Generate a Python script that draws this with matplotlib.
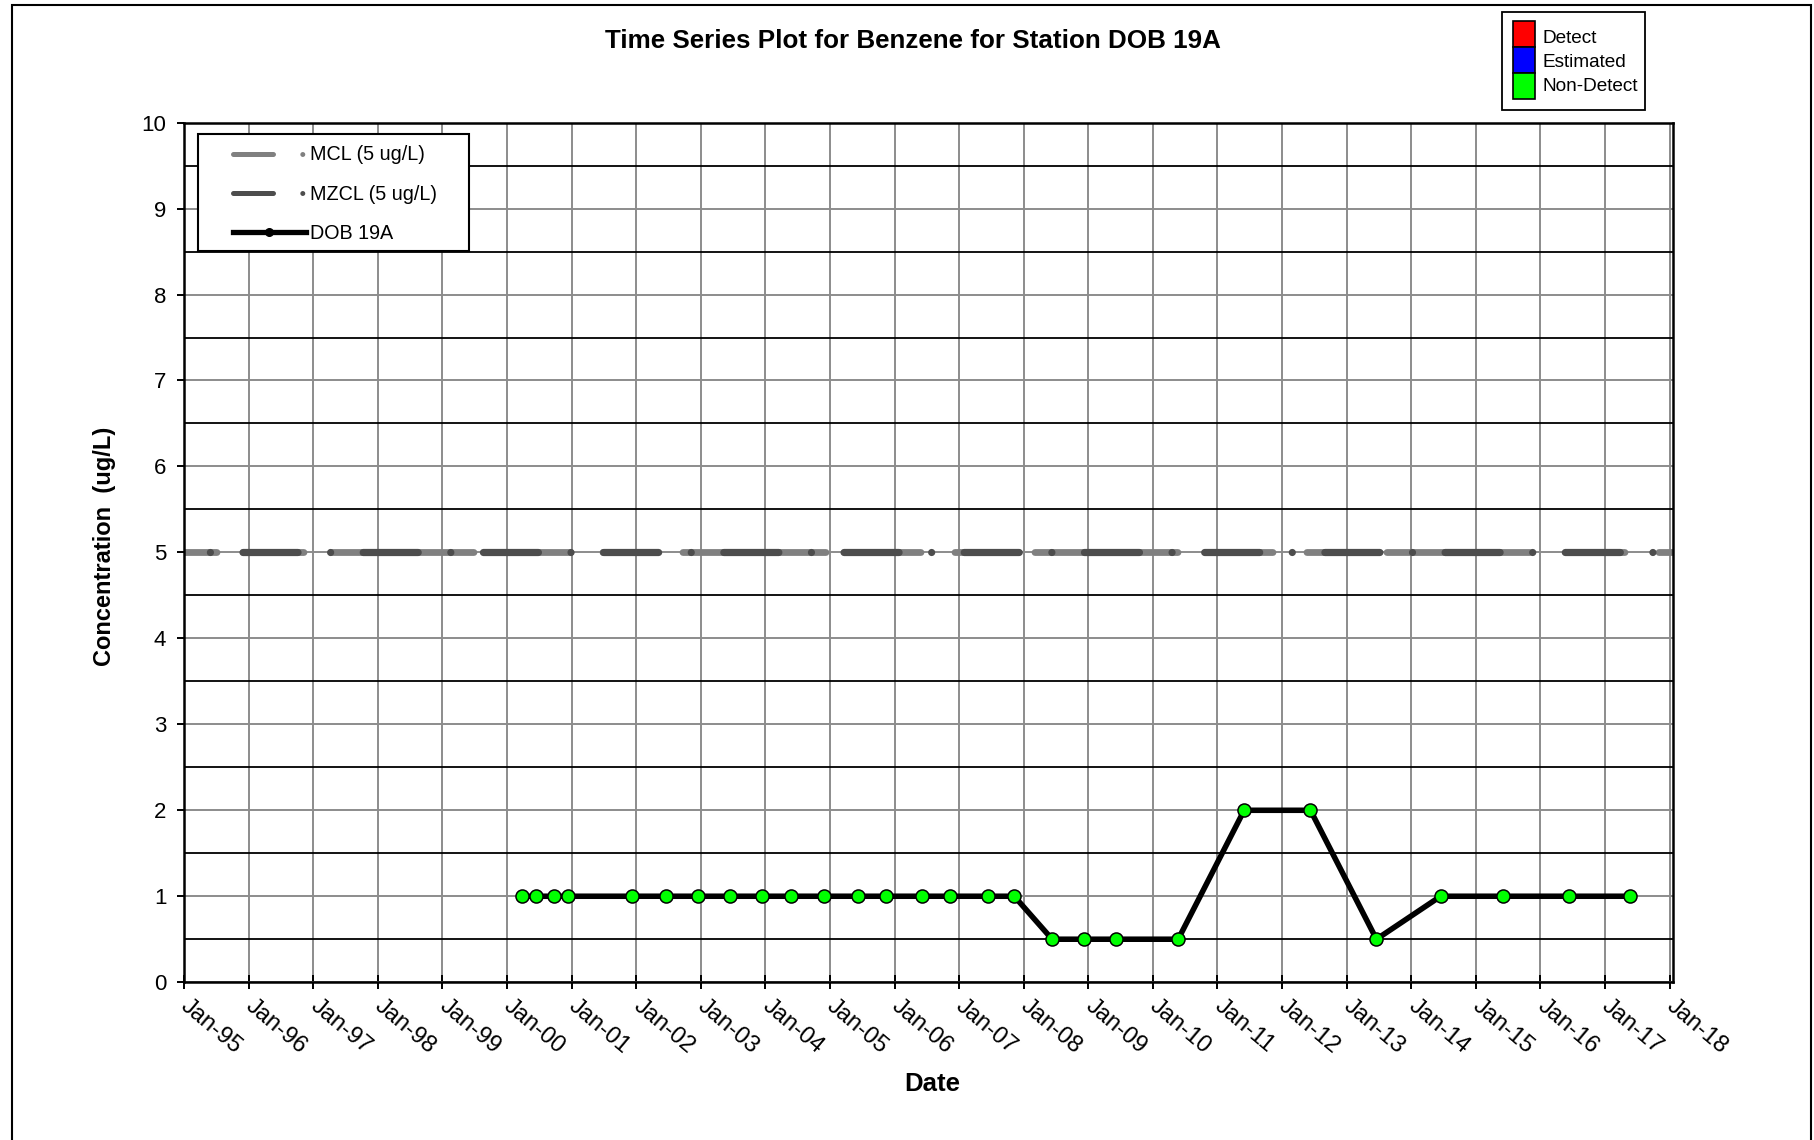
import matplotlib
matplotlib.use('Agg')
import matplotlib.pyplot as plt
import matplotlib.dates as mdates
import matplotlib.transforms as mtransforms
from matplotlib.lines import Line2D
from matplotlib.patches import Rectangle
from matplotlib.ticker import MultipleLocator
import pandas as pd

plt.rcParams['font.family'] = ['Liberation Sans', 'DejaVu Sans']
plt.rcParams['lines.scale_dashes'] = False

# ---------------- data ----------------
sample_dates = [
    "2000-03-27", "2000-06-15", "2000-09-23", "2000-12-11", "2001-12-10",
    "2002-06-21", "2002-12-17", "2003-06-15", "2003-12-14", "2004-05-23",
    "2004-11-27", "2005-06-10", "2005-11-16", "2006-06-06", "2006-11-13",
    "2007-06-15", "2007-11-09", "2008-06-10", "2008-12-10", "2009-06-06",
    "2010-05-24", "2011-06-01", "2012-06-10", "2013-06-18", "2014-06-16",
    "2015-06-03", "2016-06-10", "2017-05-20",
]
concentration = [
    1, 1, 1, 1, 1,
    1, 1, 1, 1, 1,
    1, 1, 1, 1, 1,
    1, 1, 0.5, 0.5, 0.5,
    0.5, 2, 2, 0.5, 1,
    1, 1, 1,
]
detect_status = ["Non-Detect"] * len(sample_dates)

limit_dates = ["1995-01-01", "2018-01-20"]
mcl_values = [5, 5]
mzcl_values = [5, 5]

tick_years = list(range(1995, 2019))
tick_labels = ["Jan-%02d" % (y % 100) for y in tick_years]

status_labels = ["Detect", "Estimated", "Non-Detect"]
status_colors = ["#ff0000", "#0000ff", "#00ff00"]

series_labels = ["MCL (5 ug/L)", "MZCL (5 ug/L)", "DOB 19A"]

# ---------------- layout ----------------
W, H, DPI = 1814, 1140, 100
fig = plt.figure(figsize=(W / DPI, H / DPI), dpi=DPI)
fig.patch.set_facecolor('white')


def fx(px):
    return px / W


def fy(py):
    return 1 - py / H


L, R, T, B = 184, 1673, 122.6, 982.2
ax = fig.add_axes([fx(L), fy(B), fx(R) - fx(L), fy(T) - fy(B)])

dates = pd.to_datetime(sample_dates)
ldates = pd.to_datetime(limit_dates)

LIGHT = '#808080'
DARK = '#4d4d4d'
PX = 0.72  # points per pixel at 100 dpi

# MCL (light, long dash pattern)
mcl_style = (205.5 * PX, tuple(v * PX for v in (143, 57, 38, 34, 53, 27)))
ax.plot(ldates, mcl_values, color=LIGHT, lw=4.9, linestyle=mcl_style,
        dash_capstyle='round', zorder=2)
# MZCL (dark, long dash dot)
mzcl_style = (61.7 * PX, tuple(v * PX for v in (55, 32.6, 0.01, 32.6)))
ax.plot(ldates, mzcl_values, color=DARK, lw=5.2, linestyle=mzcl_style,
        dash_capstyle='round', zorder=2.1)

# Station series
ax.plot(dates, concentration, color='black', lw=4.0, zorder=3,
        solid_joinstyle='round')
for lab, col in zip(status_labels, status_colors):
    xs = [d for d, s in zip(dates, detect_status) if s == lab]
    ys = [c for c, s in zip(concentration, detect_status) if s == lab]
    if xs:
        ax.plot(xs, ys, linestyle='none', marker='o', ms=9.4, mfc=col,
                mec='black', mew=1.1, zorder=4)

# axes limits / ticks
ax.set_xlim(ldates[0], ldates[-1])
ax.set_ylim(0, 10)
ax.set_yticks(range(0, 11))
ax.yaxis.set_minor_locator(MultipleLocator(0.5))
tick_pos = [mdates.date2num(pd.Timestamp(year=y, month=1, day=1)) for y in tick_years]
ax.set_xticks(tick_pos)

ax.set_axisbelow(True)
ax.grid(which='major', axis='both', color='#8c8c8c', lw=1.4)
ax.grid(which='minor', axis='y', color='black', lw=1.3)

ax.tick_params(axis='y', which='major', direction='out', length=5, width=1.4,
               pad=7.7, labelsize=16)
ax.tick_params(axis='y', which='minor', length=0)
ax.tick_params(axis='x', which='major', direction='inout', length=10, width=1.4,
               pad=4, labelsize=17)
for sp in ax.spines.values():
    sp.set_color('black')
    sp.set_linewidth(1.8)

ax.set_xticklabels(tick_labels, rotation=-40, ha='left', va='top',
                   rotation_mode='anchor')
shift = mtransforms.ScaledTranslation(5 / 72, 0, fig.dpi_scale_trans)
for tk in ax.xaxis.get_major_ticks():
    tk.label1.set_transform(tk.label1.get_transform() + shift)

# ---------------- texts ----------------
fig.text(fx(913), fy(40.5), "Time Series Plot for Benzene for Station DOB 19A",
         ha='center', va='center', fontsize=18.7, fontweight='bold')
fig.text(fx(104), fy(546), "Concentration  (ug/L)", rotation=90,
         ha='center', va='center', fontsize=17, fontweight='bold')
fig.text(fx(932), fy(1084), "Date", ha='center', va='center',
         fontsize=18.5, fontweight='bold')

# ---------------- series legend (top-left) ----------------
leg_mcl = Line2D([], [], color=LIGHT, lw=3.6, dash_capstyle='round',
                 linestyle=(0, (40 * PX, 29.3 * PX, 0.01, 40 * PX)))
leg_mzcl = Line2D([], [], color=DARK, lw=3.6, dash_capstyle='round',
                  linestyle=(0, (40 * PX, 29.3 * PX, 0.01, 40 * PX)))
leg_dob = Line2D([], [], color='black', lw=3.8, marker='o', ms=5.5,
                 mfc='black', mec='black')
fig.add_artist(Rectangle((fx(197.8), fy(251)), fx(468.6) - fx(197.8),
                         fy(134.2) - fy(251), transform=fig.transFigure,
                         facecolor='white', edgecolor='black', lw=1.5, zorder=5))
leg = fig.legend([leg_mcl, leg_mzcl, leg_dob], series_labels,
                 loc='upper left', bbox_to_anchor=(fx(232.7), fy(145.5)),
                 frameon=False, borderpad=0, borderaxespad=0,
                 handlelength=3.72, handletextpad=0.2, labelspacing=1.02,
                 fontsize=14.2)
leg.set_zorder(6)

# ---------------- status legend (top-right) ----------------
fig.add_artist(Rectangle((fx(1501.7), fy(110)), fx(1645) - fx(1501.7),
                         fy(11.6) - fy(110), transform=fig.transFigure,
                         facecolor='white', edgecolor='black', lw=1.3))
row_tops = [20.8, 47.0, 73.2]
row_h = 26.2
text_y = [38.5, 62.4, 86.3]
for top, ty, lab, col in zip(row_tops, text_y, status_labels, status_colors):
    fig.add_artist(Rectangle((fx(1513), fy(top + row_h)), fx(1535) - fx(1513),
                             fy(top) - fy(top + row_h), transform=fig.transFigure,
                             facecolor=col, edgecolor='black', lw=1.2))
    fig.text(fx(1542), fy(ty), lab, ha='left', va='center', fontsize=13.7)

# ---------------- figure border ----------------
fig.add_artist(Rectangle((fx(11.6), -0.05), fx(1811.5) - fx(11.6),
                         fy(4.6) + 0.05, transform=fig.transFigure,
                         fill=False, edgecolor='black', lw=1.5))

fig.savefig('out.png', dpi=DPI)
